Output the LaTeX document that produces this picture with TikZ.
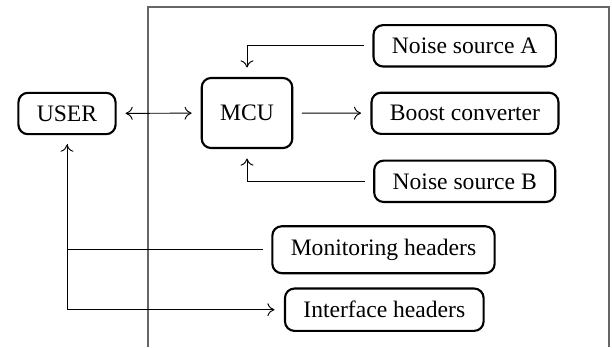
\documentclass[tikz,border=0pt]{standalone}
\usepackage{fontspec}
\setmainfont{Liberation Serif}
\usetikzlibrary{positioning,arrows.meta}

\begin{document}
\begin{tikzpicture}[x=0.4237pt,y=-0.4237pt,
  >={Computer Modern Rightarrow[length=3pt,width=5.5pt]},
  block/.style={draw, rounded corners=4pt, line width=0.9pt, inner xsep=7.8pt, inner ysep=5.4pt},
  link/.style={->, shorten >=4pt, shorten <=3.6pt}]
\useasboundingbox (0,0) rectangle (612,347);
% board outline
\draw[black!60, line width=0.7pt] (148,347) -- (148,7) -- (609,7) -- (609,347);
% blocks
\node[block] (user) at (67,113.5) {USER};
\node[block, minimum height=29.7pt] (mcu) at (247,113) {MCU};
\node[block] (noiseA) at (464.7,45.8) {Noise source A};
\node[block] (boost) at (465,113.3) {Boost converter};
\node[block] (noiseB) at (464.7,181.3) {Noise source B};
\node[block] (monitor) at (383.5,249.7) {Monitoring headers};
\node[block] (iface) at (384.3,309.7) {Interface headers};
% connections
\draw [<->, shorten >=3.8pt, shorten <=3.8pt] (user) -- (mcu);
\draw [link] (mcu) -- (boost);
\draw [link] (noiseA) -| (mcu);
\draw [link] (noiseB) -| (mcu);
\draw [link] (monitor) -| (user);
\draw [link] (user) |- (iface);
\end{tikzpicture}
\end{document}
